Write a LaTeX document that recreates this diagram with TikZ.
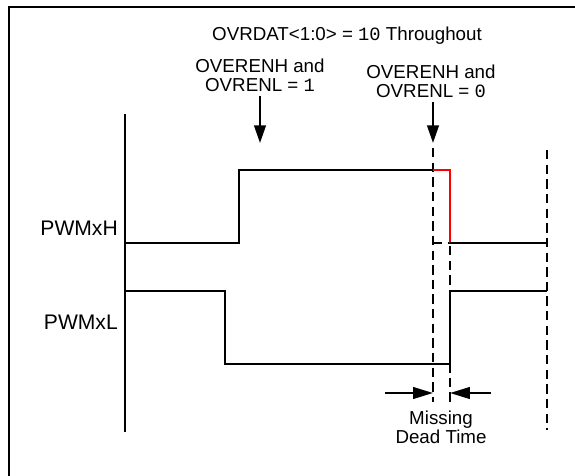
\documentclass[tikz,border=0pt]{standalone}
\usepackage{fontspec}
\setmainfont{Liberation Sans}
\setmonofont{Liberation Mono}
\usetikzlibrary{arrows.meta}

\begin{document}
\begin{tikzpicture}[x=0.03cm, y=-0.03cm,
    wave/.style={line width=1.6pt},
    guide/.style={line width=1.6pt, dash pattern=on 8pt off 4.5pt},
    lbl/.style={font=\fontsize{16}{16.5}\selectfont, align=center, inner sep=0pt},
    sig/.style={font=\fontsize{18}{20}\selectfont, inner sep=0pt, anchor=east},
    pointer/.style={line width=1.6pt, -{Triangle[length=15pt, width=10pt]}},
    gap/.style={line width=1.6pt, -{Triangle[length=17pt, width=10pt]}}]

    \useasboundingbox (0,0) rectangle (575,476);
    \clip (0,0) rectangle (575,476);
    \draw[line width=2pt] (9,7) rectangle (600,500);

    % labels
    \node[lbl] (title) at (347,36) {OVRDAT<1:0> = \texttt{10} Throughout};
    \node[lbl] (onlbl) at (260,75) {OVERENH and\\OVRENL = \texttt{1}};
    \node[lbl] (offlbl) at (431,81) {OVERENH and\\OVRENL = \texttt{0}};
    \node[sig] (hname) at (118,228) {PWMxH};
    \node[sig] (lname) at (118,322) {PWMxL};
    \node[lbl] (dead) at (441,427) {Missing\\Dead Time};

    % axis
    \coordinate (axtop) at (125,114);
    \coordinate (axbot) at (125,432);
    \draw[wave] (axtop) -- (axbot);

    % pointers
    \coordinate (tipon) at (260,143);
    \coordinate (tipoff) at (433,143);
    \draw[pointer] ([yshift=-4pt]onlbl.south) -- (tipon);
    \draw[pointer] ([yshift=-4pt]offlbl.south -| tipoff) -- (tipoff);

    % guides
    \draw[guide] (433,148) -- (433,402);
    \draw[guide] (450,246) -- (450,402);
    \draw[guide] (547,150) -- (547,430);
    \draw[guide] (433,243) -- (450,243);

    % PWMxH
    \draw[wave] (125,243) -- (239,243) -- (239,170) -- (433,170);
    \draw[wave, red] (433,170) -- (450,170) -- (450,243);
    \draw[wave] (450,243) -- (547,243);

    % PWMxL
    \draw[wave] (125,291) -- (225,291) -- (225,364) -- (450,364) -- (450,291) -- (547,291);

    % dead time
    \coordinate (dtl) at (433,393);
    \coordinate (dtr) at (450,393);
    \draw[gap] (385,393) -- (dtl);
    \draw[gap] (491,393) -- (dtr);
\end{tikzpicture}
\end{document}
